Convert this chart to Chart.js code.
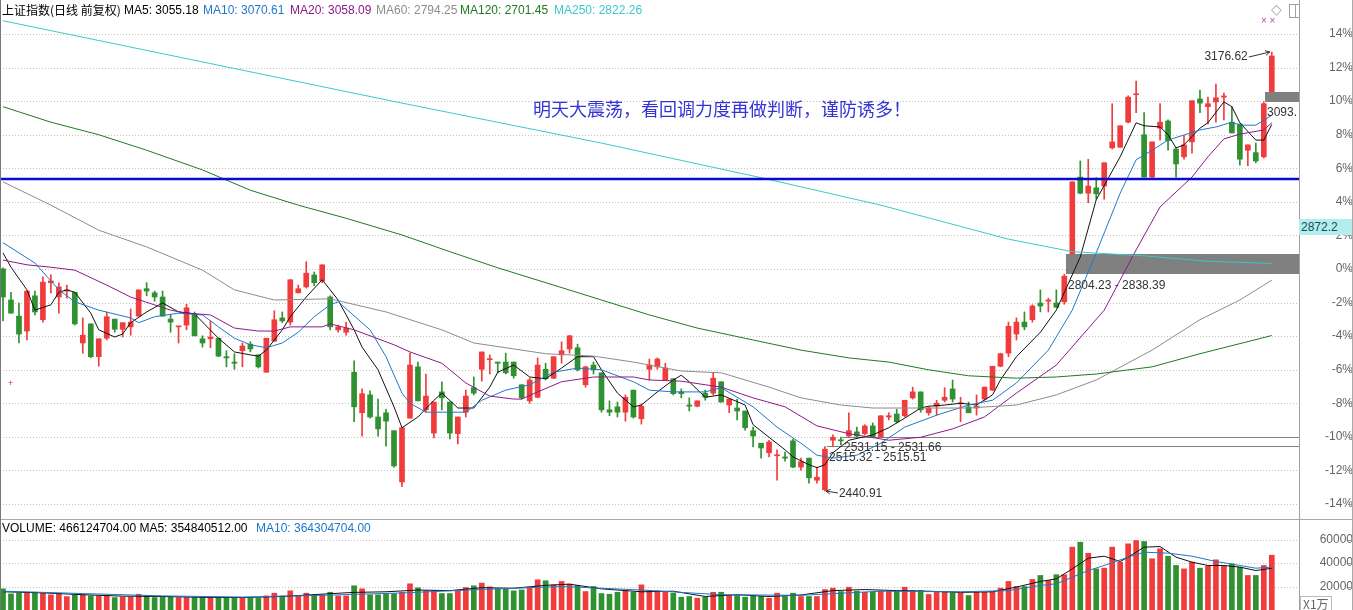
<!DOCTYPE html>
<html>
<head>
<meta charset="utf-8">
<script src="https://cdn.jsdelivr.net/npm/chart.js@4.4.1/dist/chart.umd.min.js"></script>
<style>
html,body{margin:0;padding:0;background:#fff;}
#wrap{position:relative;width:1353px;height:610px;overflow:hidden;font-family:"Liberation Sans",Arial,sans-serif;}
#main{position:absolute;left:0;top:0;}
#vol{position:absolute;left:0;top:520px;}
.t{position:absolute;white-space:nowrap;font-size:12px;line-height:14px;}
.cjk{font-family:"Noto Sans CJK SC",sans-serif;}
</style>
</head>
<body>
<div id="wrap">
  <canvas id="main" width="1353" height="519" style="width:1353px;height:519px"></canvas>
  <canvas id="vol" width="1353" height="90" style="width:1353px;height:90px"></canvas>

  <div style="position:absolute;left:0;top:519px;width:1353px;height:1px;background:#a8a8a8"></div>
  <div style="position:absolute;left:0;top:0;width:1px;height:610px;background:#777"></div>
  <div style="position:absolute;left:1352px;top:0;width:1px;height:610px;background:#aaa"></div>

  <div class="t cjk" style="left:2px;top:3px;color:#000">上证指数(日线 前复权)</div>
  <div class="t" style="left:124px;top:3px;color:#000">MA5: 3055.18</div>
  <div class="t" style="left:203px;top:3px;color:#1e78c8">MA10: 3070.61</div>
  <div class="t" style="left:290px;top:3px;color:#8b1a8b">MA20: 3058.09</div>
  <div class="t" style="left:376px;top:3px;color:#8c8c8c">MA60: 2794.25</div>
  <div class="t" style="left:460px;top:3px;color:#1f7a1f">MA120: 2701.45</div>
  <div class="t" style="left:554px;top:3px;color:#3cc8c8">MA250: 2822.26</div>

  <div class="t cjk" style="left:533px;top:96px;font-size:18px;line-height:24px;color:#3434d6">明天大震荡，看回调力度再做判断，谨防诱多！</div>

  <div class="t" style="left:2px;top:521px;color:#000">VOLUME: 466124704.00 MA5: 354840512.00</div>
  <div class="t" style="left:256px;top:521px;color:#1e78c8">MA10: 364304704.00</div>

  <div class="t" style="left:1299px;top:219px;width:51px;height:16px;line-height:16px;padding-left:2px;background:#b2eeee;color:#1c4a55">2872.2</div>
  <div class="t cjk" style="left:1300px;top:596px;line-height:13px;padding:0 2px;border:1px solid #bbb;border-bottom:none;color:#666">X1万</div>

  <div class="t" style="left:1271px;top:2px;font-size:14px;color:#a0a0a0">&#9671;</div>
  <div style="position:absolute;left:1289px;top:4px;width:9px;height:12px;border:1px solid #a0a0a0"><div style="position:absolute;left:5px;top:0;width:1px;height:12px;background:#a0a0a0"></div></div>
  <div class="t" style="left:1261px;top:14px;font-size:10px;color:#c040c0">× ×</div>
  <div class="t" style="left:8px;top:376px;font-size:9px;color:#e03030">+</div>
</div>

<script>
// 上证指数 日线 - 160 根K线，价格轴按 base 折算为涨跌幅
var base = 2813;
var pctTicks = [-14, -12, -10, -8, -6, -4, -2, 0, 2, 4, 6, 8, 10, 12, 14];
var volTicks = [20000, 40000, 60000];

var opens = [2813,2761,2734,2709,2768,2728,2790,2766,2776,2774, 2689,2721,2666,2697,2729,2712,2716,2734,2780,2773,
  2766,2729,2716,2719,2738,2696,2696,2697,2666,2657, 2676,2687,2669,2640,2692,2731,2724,2773,2783,2803,
  2793,2766,2711,2707,2640,2572,2602,2565,2572,2542, 2456,2563,2649,2577,2538,2607,2590,2537,2573,2614,
  2645,2661,2657,2657,2657,2619,2592,2598,2645,2630, 2669,2679,2681,2619,2652,2639,2577,2582,2573,2610,
  2562,2645,2649,2627,2629,2607,2585,2583,2605,2605, 2624,2585,2580,2575,2542,2521,2505,2500,2498,2525,
  2481,2496,2459,2443,2526,2526,2533,2540,2537,2550, 2532,2565,2570,2567,2597,2607,2572,2583,2593,2612,
  2587,2582,2580,2595,2610,2650,2672,2704,2724,2728, 2756,2759,2756,2758,2838.39,2967,2940,2949,2952,3016,
  3017,3059,3105,3038,2967,3049,3061,3014,3001,3026, 3098,3085,3093,3101,3059,3056,3012,3008,3001,3110];
var highs = [2815,2774,2756,2776,2776,2800,2803,2790,2786,2774, 2731,2721,2696,2741,2729,2723,2746,2778,2790,2776,
  2776,2736,2717,2754,2741,2701,2726,2697,2676,2671, 2689,2691,2669,2697,2743,2741,2795,2786,2825,2808,
  2820,2768,2719,2724,2659,2612,2609,2595,2578,2542, 2547,2672,2657,2637,2590,2624,2590,2565,2610,2632,
  2674,2669,2657,2672,2657,2619,2630,2664,2655,2666, 2691,2702,2687,2650,2657,2639,2592,2590,2602,2610,
  2587,2662,2664,2655,2629,2612,2597,2592,2610,2640, 2624,2595,2595,2575,2548,2521,2526,2510,2506,2528,
  2496,2496,2481,2515.32,2535,2531.15,2572,2548,2552,2555, 2567,2572,2578,2593,2615,2607,2582,2593,2614,2627,
  2598,2590,2602,2615,2650,2672,2724,2731,2741,2753, 2778,2764,2778,2804.23,2959,2994,2997,2966,2991,3090,
  3053,3103,3128,3075,3026,3090,3063,3017,3036,3095, 3113,3101,3123,3108,3085,3056,3021,3024,3093.2,3176.62];
var lows = [2726,2739,2689,2694,2736,2724,2773,2739,2764,2719, 2672,2664,2650,2694,2707,2699,2702,2734,2768,2759,
  2734,2707,2689,2711,2701,2682,2681,2666,2649,2645, 2649,2674,2647,2640,2692,2723,2719,2773,2781,2785,
  2790,2711,2707,2702,2557,2533,2563,2533,2516,2481, 2448,2563,2592,2573,2530,2577,2528,2520,2565,2602,
  2625,2637,2639,2637,2630,2595,2588,2597,2627,2629, 2655,2672,2642,2615,2637,2573,2567,2565,2558,2563,
  2553,2627,2645,2627,2602,2597,2575,2582,2593,2602, 2590,2572,2560,2543,2515,2496,2498,2459,2491,2480,
  2476,2454,2454,2440.91,2515.51,2518,2531.66,2532,2535,2532, 2532,2560,2555,2565,2595,2573,2568,2568,2590,2590,
  2557,2572,2568,2593,2609,2649,2666,2694,2711,2724, 2741,2741,2748,2754,2838.39,2939,2924,2930,2930,3014,
  3017,3058,3075,2967,2966,3029,3012,2967,2997,3007, 3075,3056,3059,3063,3041,2987,2986,2991,2999,3110];
var closes = [2766,2739,2704,2776,2741,2791,2793,2783,2778,2721, 2702,2666,2696,2733,2712,2723,2724,2778,2776,2766,
  2734,2724,2717,2748,2701,2689,2699,2667,2664,2655, 2684,2679,2649,2697,2728,2726,2795,2780,2806,2790,
  2820,2716,2716,2714,2582,2604,2565,2545,2558,2483, 2547,2652,2592,2600,2590,2597,2538,2565,2600,2605,
  2674,2662,2655,2639,2634,2597,2627,2652,2629,2666, 2676,2701,2644,2649,2644,2577,2573,2573,2598,2565,
  2583,2652,2662,2647,2604,2604,2583,2592,2598,2630, 2590,2595,2575,2547,2533,2513,2523,2501,2496,2481,
  2490,2463,2464,2511,2531,2525,2542,2533,2550,2532, 2567,2567,2557,2593,2607,2577,2580,2588,2598,2595,
  2588,2572,2583,2615,2650,2671,2717,2724,2716,2751, 2751,2761,2749,2801,2959,2940,2952,2939,2991,3026,
  3053,3101,3106,2967,3026,3059,3028,2989,3021,3095, 3091,3090,3100,3103,3041,2997,3021,2994,3090,3170];

// 成交量 (万手)
var volumes = [18000,13700,14300,15100,15100,14300,12900,14000,11400,12900, 12900,12000,12000,12000,10600,11100,11100,13400,12300,10600,
  11100,11100,10600,10600,10600,10600,10600,10600,10600,10600, 10600,10000,10000,12000,14300,12000,16300,12000,14300,12000,
  12900,15100,12000,12000,20600,18000,12900,12900,14000,14000, 15100,22300,18900,16300,16300,14000,14000,16300,19100,20600,
  22900,19700,18000,18000,16300,17100,19100,25700,24900,21400, 24300,22000,20900,15700,20000,14000,13400,15100,16300,15100,
  21400,16300,16300,15100,14300,10900,11500,10000,10900,15100, 15100,12300,12300,10900,12300,11500,10000,14300,11500,14300,
  11500,11500,11500,17400,18600,15700,19400,16000,15100,15100, 16000,16000,16000,19400,16600,16600,13200,15700,15700,14600,
  14600,12300,15100,15100,15700,18600,24300,20000,20000,26000, 29400,25100,30000,30000,53500,57700,48300,35000,35600,53500,
  40700,56300,59100,58300,43600,52100,45800,37900,35000,40700, 35600,37300,42700,37300,39300,36400,29400,29400,37900,46612];

// 均线，按图上读取的取样点
var ma5Idx = [0,1,3,4,6,7,8,9,11,12,14,15,16,18,20,22,24,25,27,29,31,32,33,35,36,38,40,41,42,44,45,47,49,50,52,54,55,57,59,61,
  62,64,66,68,70,72,74,75,77,79,80,82,84,85,86,88,90,93,94,96,98,99,101,102,103,104,106,109,111,113,
  115,116,118,120,122,124,125,127,130,132,135,137,140,142,143,145,146,147,148,150,151,153,154,155,157,158,159];
var ma5Val = [2840,2816,2778,2744,2753,2774,2778,2774,2739,2711,2699,2704,2723,2741,2756,2741,2738,2724,2697,2674,
  2669,2667,2677,2711,2733,2766,2795,2778,2761,2711,2682,2644,2582,2547,2565,2593,2605,2580,2580,2615,
  2640,2652,2632,2629,2647,2666,2666,2644,2605,2582,2585,2607,2627,2635,2624,2598,2602,2585,2552,2531,
  2510,2498,2485,2480,2485,2505,2526,2535,2547,2563,2580,2583,2585,2588,2585,2602,2627,2666,2707,2744,
  2833,2929,3001,3058,3053,3051,3038,3016,3021,3049,3058,3093,3085,3058,3029,3029,3055.18];
var ma10Idx = [0,4,7,9,12,16,17,19,22,25,27,29,31,33,35,37,39,41,42,46,48,50,51,53,58,60,63,66,69,72,
  75,79,81,84,88,90,94,97,100,102,104,107,110,113,117,121,124,127,131,134,137,140,142,144,146,150,152,154,155,157,159];
var ma10Val = [2857,2823,2778,2758,2744,2731,2723,2733,2739,2736,2716,2697,2686,2681,2689,2707,2733,2753,2758,2711,
  2666,2605,2588,2573,2573,2593,2610,2619,2640,2647,2644,2624,2610,2607,2607,2614,2582,2548,2521,2501,
  2496,2501,2521,2548,2568,2585,2593,2622,2677,2744,2840,2940,2996,3012,3029,3046,3051,3059,3054,3054,3070.61];
var ma20Idx = [0,3,6,9,13,16,21,23,26,29,32,34,36,40,41,44,49,51,55,58,61,64,65,67,70,74,79,81,85,90,
  94,98,102,106,111,115,119,123,127,132,138,142,145,149,151,153,155,158,159];
var ma20Val = [2828,2820,2816,2811,2786,2766,2744,2739,2736,2714,2709,2709,2716,2716,2721,2711,2686,2674,2655,2622,
  2600,2595,2595,2607,2624,2632,2632,2627,2625,2615,2597,2582,2550,2537,2526,2531,2545,2565,2605,2652,
  2744,2845,2917,2967,3001,3031,3039,3046,3058.09];
var ma60Idx = [0,6,12,18,25,29,34,41,48,55,59,68,74,79,85,90,96,100,105,109,113,121,127,132,137,144,150,155,159];
var ma60Val = [2959,2920,2878,2850,2811,2778,2761,2763,2741,2711,2689,2671,2667,2657,2642,2639,2615,2597,2585,2580,
  2580,2580,2585,2602,2627,2677,2728,2761,2794.25];
var ma120Idx = [0,6,12,18,25,31,37,43,50,56,62,69,75,81,87,94,100,106,111,116,121,127,132,137,144,150,159];
var ma120Val = [3085,3059,3038,3012,2979,2945,2920,2898,2870,2842,2815,2786,2761,2736,2714,2694,2677,2664,2657,2644,
  2634,2630,2632,2637,2649,2671,2701.45];
var ma250Idx = [0,25,50,75,95,110,126,134,143,151,159];
var ma250Val = [3229,3160,3091,3024,2966,2920,2863,2842,2835,2826,2822.26];

var vma5Idx = [0,5,10,15,20,25,30,35,40,44,48,52,56,60,64,68,71,75,80,84,88,92,96,100,104,108,112,116,120,124,
  127,130,132,134,136,138,140,141,143,145,147,149,151,153,155,157,159];
var vma5Val = [15500,14600,13000,11800,11500,10800,10600,11500,13500,15000,15500,17000,16500,19000,18500,21000,22000,18000,15500,16000,
  11500,13000,11500,12800,16500,17400,16500,16000,15000,15500,19500,24300,26500,35000,44100,45800,41300,45000,53500,54000,
  45000,40700,37900,37900,36500,33600,35484];
var vma10Idx = [0,10,20,30,40,50,60,70,80,90,100,110,120,126,130,132,134,136,138,141,143,146,149,152,155,157,159];
var vma10Val = [16000,14000,12000,11000,12500,14500,17500,20000,17000,13000,12500,16000,15500,16500,20900,22300,27900,33600,37900,45000,
  49200,48400,45800,41300,37900,35600,36430];

// 缺口: 起始K线、下沿、上沿
var gapIdx  = [104, 106, 134, 159];
var gapLo   = [2515.32, 2531.15, 2804.23, 3093.2];
var gapHi   = [2515.51, 2531.66, 2838.39, 3110];
var gapText = ['2515.32 - 2515.51', '2531.15 - 2531.66', '2804.23 - 2838.39', '3093.'];
var hLine = 2964;

var RED = '#f03c3c', GREEN = '#2f912f';
var X_MIN = -0.376, X_MAX = 162.41;

var colors = closes.map(function(c, i) { return c >= opens[i] ? RED : GREEN; });

function pts(ix, vals) {
  return ix.map(function(k, j) { return { x: k, y: vals[j] }; });
}
function maLine(ix, vals, color) {
  return { type: 'line', data: pts(ix, vals), borderColor: color, borderWidth: 1,
    pointRadius: 0, tension: 0, order: 1 };
}

function arrow(ctx, x0, y0, x1, y1) {
  var a = Math.atan2(y1 - y0, x1 - x0);
  ctx.beginPath(); ctx.moveTo(x0, y0); ctx.lineTo(x1, y1); ctx.stroke();
  ctx.beginPath();
  ctx.moveTo(x1 - 5 * Math.cos(a - 0.5), y1 - 5 * Math.sin(a - 0.5));
  ctx.lineTo(x1, y1);
  ctx.lineTo(x1 - 5 * Math.cos(a + 0.5), y1 - 5 * Math.sin(a + 0.5));
  ctx.stroke();
}

function dottedGrid(chart) {
  var ctx = chart.ctx, a = chart.chartArea, ys = chart.scales.y;
  ctx.save();
  ctx.strokeStyle = '#c2c2c2'; ctx.lineWidth = 1; ctx.setLineDash([1, 2]);
  ys.ticks.forEach(function(t) {
    var py = Math.round(ys.getPixelForValue(t.value)) + 0.5;
    ctx.beginPath(); ctx.moveTo(a.left, py); ctx.lineTo(a.right, py); ctx.stroke();
  });
  ctx.setLineDash([]);
  ctx.strokeStyle = '#999';
  ys.ticks.forEach(function(t) {
    var py = Math.round(ys.getPixelForValue(t.value)) + 0.5;
    ctx.beginPath(); ctx.moveTo(1348, py); ctx.lineTo(1353, py); ctx.stroke();
  });
  ctx.restore();
}

var mainOverlay = {
  id: 'mainOverlay',
  beforeDatasetsDraw: function(chart) {
    var ctx = chart.ctx, a = chart.chartArea, xs = chart.scales.x, ys = chart.scales.y;
    dottedGrid(chart);
    ctx.save();
    ctx.fillStyle = '#808080';
    gapIdx.forEach(function(g, k) {
      var x0 = Math.round(xs.getPixelForValue(g - 0.8));
      var y0 = Math.round(ys.getPixelForValue(gapHi[k]));
      var y1 = Math.round(ys.getPixelForValue(gapLo[k]));
      ctx.fillRect(x0, y0, a.right - x0, Math.max(1, y1 - y0));
    });
    ctx.restore();
  },
  afterDatasetsDraw: function(chart) {
    var ctx = chart.ctx, a = chart.chartArea, xs = chart.scales.x, ys = chart.scales.y;
    ctx.save();
    ctx.beginPath(); ctx.rect(a.left, a.top, a.right - a.left, a.bottom - a.top); ctx.clip();

    var py = ys.getPixelForValue(hLine);
    ctx.strokeStyle = '#0a0ad2'; ctx.lineWidth = 2.5;
    ctx.beginPath(); ctx.moveTo(a.left, py); ctx.lineTo(a.right, py); ctx.stroke();

    ctx.font = '12px "Liberation Sans", Arial, sans-serif';
    ctx.fillStyle = '#333'; ctx.textBaseline = 'middle'; ctx.textAlign = 'left';
    gapIdx.forEach(function(g, k) {
      var x0 = Math.round(xs.getPixelForValue(g - 0.8));
      var y1 = ys.getPixelForValue(gapLo[k]);
      ctx.fillText(gapText[k], x0 + 2, y1 + 11);
    });

    // 最高 / 最低标注
    var hi = highs.indexOf(Math.max.apply(null, highs));
    var lo = lows.indexOf(Math.min.apply(null, lows));
    var hx = xs.getPixelForValue(hi), hy = ys.getPixelForValue(highs[hi]);
    var lx = xs.getPixelForValue(lo), ly = ys.getPixelForValue(lows[lo]);
    ctx.strokeStyle = '#333'; ctx.lineWidth = 1;
    arrow(ctx, hx - 23, hy + 5, hx - 2, hy);
    ctx.textAlign = 'right';
    ctx.fillText(highs[hi].toFixed(2), hx - 24, hy + 5);
    arrow(ctx, lx + 13, ly + 2, lx + 1, ly);
    ctx.textAlign = 'left';
    ctx.fillText(lows[lo].toFixed(2), lx + 14, ly + 3);
    ctx.restore();
  }
};

var volOverlay = {
  id: 'volOverlay',
  beforeDatasetsDraw: function(chart) { dottedGrid(chart); }
};

Chart.defaults.font.family = '"Liberation Sans", Arial, sans-serif';
Chart.defaults.font.size = 12;

new Chart(document.getElementById('main'), {
  type: 'bar',
  data: {
    datasets: [
      maLine(ma250Idx, ma250Val, '#3cc8c8'),
      maLine(ma120Idx, ma120Val, '#1f7a1f'),
      maLine(ma60Idx, ma60Val, '#8c8c8c'),
      maLine(ma20Idx, ma20Val, '#8b1a8b'),
      maLine(ma10Idx, ma10Val, '#1e78c8'),
      maLine(ma5Idx, ma5Val, '#111111'),
      { data: highs.map(function(h, i) { return { x: i, y: [lows[i], h] }; }),
        backgroundColor: colors, barThickness: 1, minBarLength: 1, grouped: false, order: 3 },
      { data: opens.map(function(o, i) { return { x: i, y: [o, closes[i]] }; }),
        backgroundColor: colors, barThickness: 5, minBarLength: 1, grouped: false, order: 2 }
    ]
  },
  options: {
    responsive: false, animation: false, events: [], devicePixelRatio: 1,
    layout: { padding: 0 },
    plugins: { legend: { display: false }, tooltip: { enabled: false } },
    scales: {
      x: { type: 'linear', min: X_MIN, max: X_MAX, display: false, offset: false },
      y: {
        position: 'right', min: 2394, max: 3263.8,
        grid: { display: false, drawTicks: false, tickLength: 0 },
        border: { display: true, color: '#a0a0a0' },
        ticks: { color: '#666', padding: 20, crossAlign: 'far', autoSkip: false,
          callback: function(v) { return Math.round((v / base - 1) * 100) + '%'; } },
        afterBuildTicks: function(s) {
          s.ticks = pctTicks.map(function(p) { return { value: base * (1 + p / 100) }; });
        },
        afterFit: function(s) { s.width = 54; s.paddingTop = 0; s.paddingBottom = 0; }
      }
    }
  },
  plugins: [mainOverlay]
});

new Chart(document.getElementById('vol'), {
  type: 'bar',
  data: {
    datasets: [
      maLine(vma10Idx, vma10Val, '#1e78c8'),
      maLine(vma5Idx, vma5Val, '#111111'),
      { data: volumes.map(function(v, i) { return { x: i, y: v }; }),
        backgroundColor: colors, barThickness: 5, grouped: false, order: 2 }
    ]
  },
  options: {
    responsive: false, animation: false, events: [], devicePixelRatio: 1,
    layout: { padding: 0 },
    plugins: { legend: { display: false }, tooltip: { enabled: false } },
    scales: {
      x: { type: 'linear', min: X_MIN, max: X_MAX, display: false, offset: false },
      y: {
        position: 'right', min: 0, max: 76600,
        grid: { display: false, drawTicks: false, tickLength: 0 },
        border: { display: true, color: '#a0a0a0' },
        ticks: { color: '#666', padding: 15, crossAlign: 'far', autoSkip: false,
          callback: function(v) { return String(v); } },
        afterBuildTicks: function(s) {
          s.ticks = volTicks.map(function(v) { return { value: v }; });
        },
        afterFit: function(s) { s.width = 54; s.paddingTop = 0; s.paddingBottom = 0; }
      }
    }
  },
  plugins: [volOverlay]
});
</script>
</body>
</html>
